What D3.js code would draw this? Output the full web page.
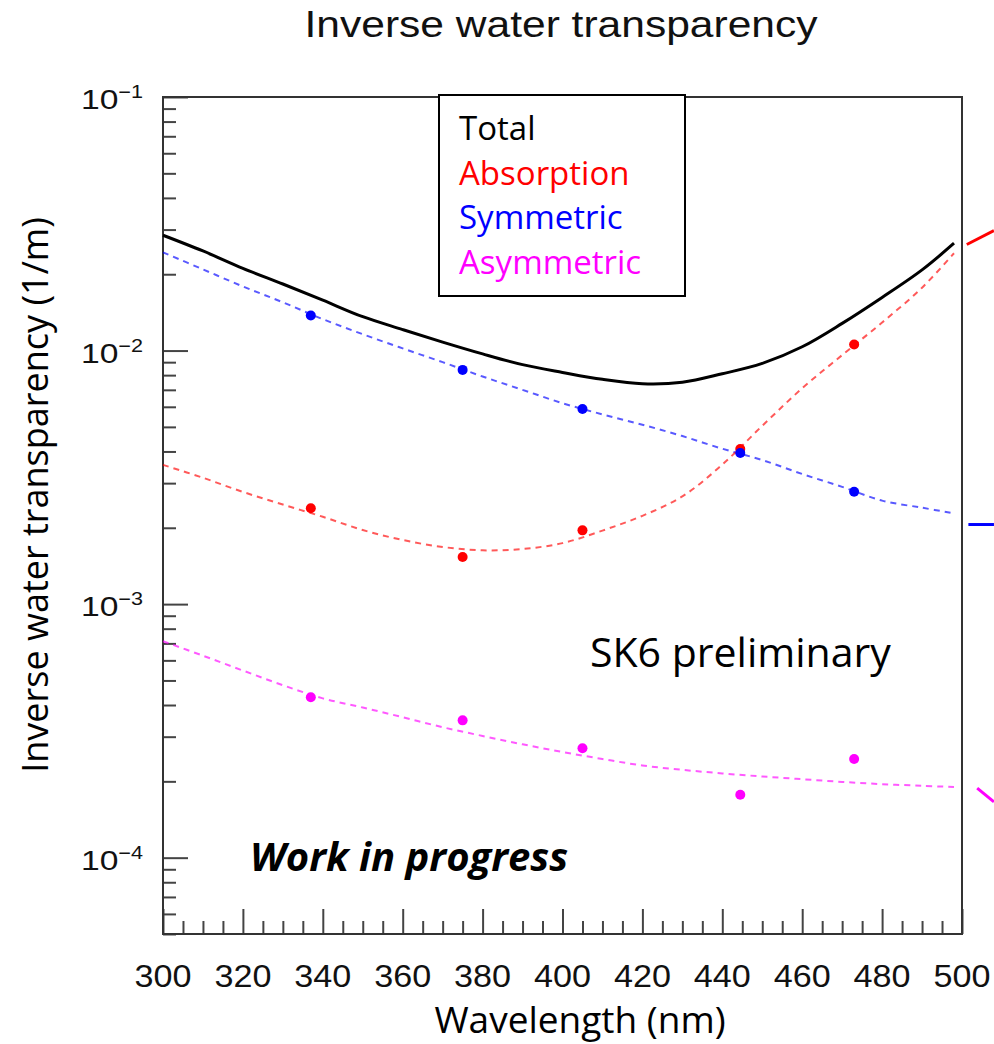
<!DOCTYPE html>
<html>
<head>
<meta charset="utf-8">
<script src="https://cdn.jsdelivr.net/npm/d3@7"></script>
<style>
  body { margin: 0; background: #fff; }
  svg { display: block; }
</style>
</head>
<body>
<script>
// wavelength grid for the fitted curves (nm)
var wavelength = [300, 310, 320, 330, 340, 350, 360, 370, 380, 390, 400, 410, 420, 430, 440, 450, 460, 470, 480, 490, 498]

// curves (1/m)
var totalCurve = [0.0285, 0.0247, 0.0211, 0.0183, 0.0158, 0.0136, 0.0121, 0.0108, 0.0097, 0.0088, 0.0082, 0.0077, 0.0074, 0.0075, 0.0081, 0.0089, 0.01035, 0.0128, 0.0162, 0.0208, 0.0265]
var absorptionCurve = [0.00354, 0.00315, 0.00277, 0.00247, 0.00221, 0.00196, 0.00179, 0.00168, 0.00163, 0.00165, 0.00174, 0.00195, 0.00223, 0.00266, 0.00355, 0.00505, 0.0071, 0.0096, 0.0129, 0.0177, 0.0242]
var symmetricCurve = [0.0244, 0.0209, 0.0179, 0.0155, 0.0133, 0.0116, 0.0102, 0.0090, 0.0079, 0.0070, 0.0062, 0.0056, 0.0051, 0.0046, 0.0041, 0.0037, 0.00326, 0.0029, 0.00256, 0.0024, 0.00228]
var asymmetricCurve = [0.000714, 0.000626, 0.000547, 0.000479, 0.000425, 0.000391, 0.000358, 0.000327, 0.000302, 0.00028, 0.000261, 0.000245, 0.000231, 0.000222, 0.000215, 0.000209, 0.000204, 0.000199, 0.000195, 0.000192, 0.00019]

// measured points
var measuredWavelength = [337, 375, 405, 444.5, 473]
var absorptionPoints = [0.00239, 0.001535, 0.001954, 0.004087, 0.01056]
var symmetricPoints = [0.01374, 0.00839, 0.00588, 0.003945, 0.002773]
var asymmetricPoints = [0.000429, 0.000348, 0.00027, 0.000177, 0.000245]

// axis ticks
var xMajor = [300, 320, 340, 360, 380, 400, 420, 440, 460, 480, 500]
var yMajorExp = [-4, -3, -2, -1]

var legendNames = ["Total", "Absorption", "Symmetric", "Asymmetric"]

var W = 994, H = 1044
var rootFont = "'Liberation Sans', Arial, Helvetica, sans-serif"
var slideFont = "'Open Sans', 'Noto Sans', sans-serif"

var svg = d3.select("body").append("svg")
    .attr("width", W)
    .attr("height", H)

var x = d3.scaleLinear().domain([300, 500]).range([163, 962])
var y = d3.scaleLog().domain([5e-5, 0.1]).range([934, 97])

// title
svg.append("text")
    .attr("x", 561)
    .attr("y", 37)
    .attr("text-anchor", "middle")
    .attr("font-family", rootFont)
    .attr("font-size", 36)
    .attr("textLength", 513)
    .attr("lengthAdjust", "spacingAndGlyphs")
    .attr("fill", "#111")
    .text("Inverse water transparency")

// ticks - minor and major, drawn inward
var xMinor = d3.range(300, 501, 5).filter(function(v) { return v % 20 != 0 })
var yMinor = []
for (var e = -5; e <= -2; e++) {
    for (var m = 2; m <= 9; m++) {
        var v = m * Math.pow(10, e)
        if (v >= 5e-5 && v < 0.1) yMinor.push(v)
    }
}
var yMajor = yMajorExp.map(function(k) { return Math.pow(10, k) })

function styleAxis(g) {
    g.select(".domain").remove()
    g.selectAll("line").attr("stroke", "#444").attr("stroke-width", 2)
    g.selectAll("text").remove()
}

svg.append("g").attr("transform", "translate(0,934)")
    .call(d3.axisBottom(x).tickValues(xMinor).tickSize(-13)).call(styleAxis)
svg.append("g").attr("transform", "translate(0,934)")
    .call(d3.axisBottom(x).tickValues(xMajor).tickSize(-25)).call(styleAxis)
svg.append("g").attr("transform", "translate(163,0)")
    .call(d3.axisLeft(y).tickValues(yMinor).tickSize(-13)).call(styleAxis)
svg.append("g").attr("transform", "translate(163,0)")
    .call(d3.axisLeft(y).tickValues(yMajor).tickSize(-25)).call(styleAxis)

// frame
svg.append("rect")
    .attr("x", x(300))
    .attr("y", y(0.1))
    .attr("width", x(500) - x(300))
    .attr("height", y(5e-5) - y(0.1))
    .attr("fill", "none")
    .attr("stroke", "#333")
    .attr("stroke-width", 2)

// x tick labels
svg.append("g").selectAll("text")
    .data(xMajor)
    .enter()
    .append("text")
    .attr("x", function(d) { return x(d) })
    .attr("y", 987)
    .attr("text-anchor", "middle")
    .attr("font-family", rootFont)
    .attr("font-size", 32)
    .attr("textLength", 57)
    .attr("lengthAdjust", "spacingAndGlyphs")
    .attr("fill", "#111")
    .text(function(d) { return d })

// y tick labels 10^k, ROOT style (a bit wide)
var yLab = svg.append("g").selectAll("text")
    .data(yMajorExp)
    .enter()
    .append("text")
    .attr("transform", function(d) { return "translate(143," + (y(Math.pow(10, d)) + 12) + ") scale(1.2,1)" })
    .attr("text-anchor", "end")
    .attr("font-family", rootFont)
    .attr("font-size", 28)
    .attr("fill", "#111")
yLab.append("tspan").text("10")
yLab.append("tspan")
    .attr("font-size", 18)
    .attr("dy", -11)
    .text(function(d) { return "\u2212" + Math.abs(d) })

// curves
function drawCurve(values, color, dashed, width, opacity) {
    var pts = wavelength.map(function(w, i) { return [w, values[i]] })
    svg.append("path")
        .datum(pts)
        .attr("d", d3.line()
            .x(function(d) { return x(d[0]) })
            .y(function(d) { return y(d[1]) })
            .curve(d3.curveCatmullRom.alpha(0.5)))
        .attr("fill", "none")
        .attr("stroke", color)
        .attr("stroke-width", width)
        .attr("stroke-opacity", opacity)
        .attr("stroke-dasharray", dashed ? "6,5" : null)
}
drawCurve(symmetricCurve, "#0000ff", true, 2, 0.65)
drawCurve(absorptionCurve, "#ff0000", true, 2, 0.65)
drawCurve(asymmetricCurve, "#ff00ff", true, 2, 0.65)
drawCurve(totalCurve, "#000000", false, 3, 1)

// points
function drawPoints(values, color) {
    svg.append("g").selectAll("circle")
        .data(values)
        .enter()
        .append("circle")
        .attr("cx", function(d, i) { return x(measuredWavelength[i]) })
        .attr("cy", function(d) { return y(d) })
        .attr("r", 5)
        .attr("fill", color)
}
drawPoints(absorptionPoints, "#ff0000")
drawPoints(symmetricPoints, "#0000ff")
drawPoints(asymmetricPoints, "#ff00ff")

// pointer lines going off the right edge of the slide
var pointers = [
    {color: "#ff0000", from: [501.2, 0.0262], to: [508, 0.0297]},
    {color: "#0000ff", from: [501.6, 0.00206], to: [508, 0.00206]},
    {color: "#ff00ff", from: [503.8, 0.000188], to: [508, 0.000166]}
]
svg.append("g").selectAll("line")
    .data(pointers)
    .enter()
    .append("line")
    .attr("x1", function(d) { return x(d.from[0]) })
    .attr("y1", function(d) { return y(d.from[1]) })
    .attr("x2", function(d) { return x(d.to[0]) })
    .attr("y2", function(d) { return y(d.to[1]) })
    .attr("stroke", function(d) { return d.color })
    .attr("stroke-width", 3)

// legend box
var legendColors = ["#000000", "#ff0000", "#0000ff", "#ff00ff"]
svg.append("rect")
    .attr("x", 439)
    .attr("y", 95)
    .attr("width", 246)
    .attr("height", 201)
    .attr("fill", "#fff")
    .attr("stroke", "#000")
    .attr("stroke-width", 2)
svg.append("g").selectAll("text")
    .data(legendNames)
    .enter()
    .append("text")
    .attr("x", 459)
    .attr("y", function(d, i) { return 140 + i * 44.7 })
    .attr("font-family", slideFont)
    .attr("font-size", 33)
    .attr("fill", function(d, i) { return legendColors[i] })
    .text(function(d) { return d })

// slide annotations
svg.append("text")
    .attr("x", 590)
    .attr("y", 667)
    .attr("font-family", slideFont)
    .attr("font-size", 41)
    .attr("fill", "#000")
    .text("SK6 preliminary")

svg.append("text")
    .attr("x", 250)
    .attr("y", 871)
    .attr("font-family", slideFont)
    .attr("font-size", 40)
    .attr("font-weight", "bold")
    .attr("font-style", "italic")
    .attr("fill", "#000")
    .text("Work in progress")

// axis titles
svg.append("text")
    .attr("x", 580)
    .attr("y", 1033)
    .attr("text-anchor", "middle")
    .attr("font-family", slideFont)
    .attr("font-size", 37)
    .attr("fill", "#000")
    .text("Wavelength (nm)")

svg.append("text")
    .attr("transform", "translate(48,495) rotate(-90)")
    .attr("text-anchor", "middle")
    .attr("font-family", slideFont)
    .attr("font-size", 36)
    .attr("fill", "#000")
    .text("Inverse water transparency (1/m)")
</script>
</body>
</html>
